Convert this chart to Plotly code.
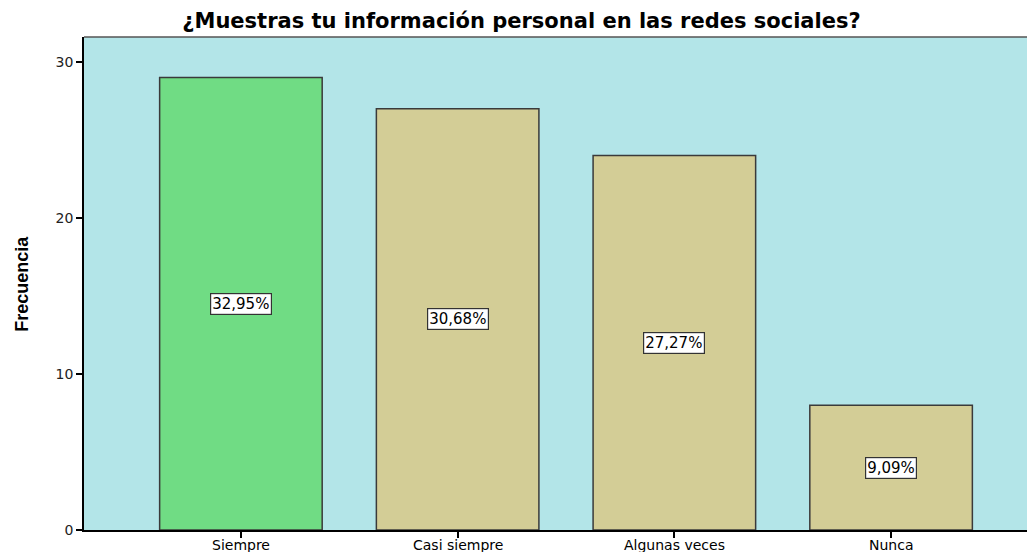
import plotly.graph_objects as go

categories = ["Siempre", "Casi siempre", "Algunas veces", "Nunca"]
frecuencia = [29, 27, 24, 8]
porcentajes = ["32,95%", "30,68%", "27,27%", "9,09%"]
bar_colors = ["#70DC84", "#D3CD96", "#D3CD96", "#D3CD96"]
y_ticks = [0, 10, 20, 30]

FONT = "DejaVu Sans, Verdana, sans-serif"

fig = go.Figure()
fig.add_trace(go.Bar(
    x=list(range(len(categories))),
    y=frecuencia,
    width=0.75,
    marker=dict(color=bar_colors, line=dict(color="#3a3a3a", width=1.5)),
    hoverinfo="skip",
))

for i, (v, p) in enumerate(zip(frecuencia, porcentajes)):
    fig.add_annotation(
        x=i, y=v / 2, text=p, showarrow=False,
        font=dict(family=FONT, size=15, color="black"),
        bgcolor="white", bordercolor="#333333", borderwidth=1.2, borderpad=1,
    )

# category labels under the ticks
for i, c in enumerate(categories):
    fig.add_annotation(
        x=i, xref="x", y=0, yref="paper", yanchor="top", yshift=-6,
        text=c, showarrow=False, borderpad=0,
        font=dict(family=FONT, size=14, color="black"),
    )

fig.add_annotation(
    xref="paper", yref="paper", x=-0.066, y=0.5,
    text="<b>Frecuencia</b>", textangle=-90, showarrow=False,
    xanchor="center", yanchor="middle",
    font=dict(family="Liberation Sans Narrow, Liberation Sans, Arial", size=18, color="black"),
)

fig.update_layout(
    width=1027, height=544,
    margin=dict(l=76, r=0, t=29, b=22, autoexpand=False),
    paper_bgcolor="white",
    plot_bgcolor="#B3E5E8",
    showlegend=False,
    title=dict(
        text="<b>¿Muestras tu información personal en las redes sociales?</b>",
        x=0.5, xanchor="center", y=0.976, yanchor="middle",
        font=dict(family=FONT, size=21, color="black"),
    ),
    xaxis=dict(
        range=[-0.724, 3.664],
        tickvals=list(range(len(categories))),
        showticklabels=False,
        ticks="outside", ticklen=6, tickcolor="black", tickwidth=1.5,
        showgrid=False, zeroline=False, automargin=False,
        showline=True, linecolor="black", linewidth=1.5,
        fixedrange=True,
    ),
    yaxis=dict(
        range=[0, 31.6],
        tickvals=y_ticks,
        ticks="outside", ticklen=6, tickcolor="black", tickwidth=1.5,
        showgrid=False, zeroline=False, automargin=False,
        showline=True, linecolor="black", linewidth=1.5, mirror=False,
        tickfont=dict(family=FONT, size=14, color="#222222"),
        fixedrange=True,
    ),
)

# top border line of the plot area
fig.add_shape(type="line", xref="paper", yref="paper", x0=0, x1=1, y0=1, y1=1,
              line=dict(color="#555555", width=1.5))

fig.write_html("out.html")
